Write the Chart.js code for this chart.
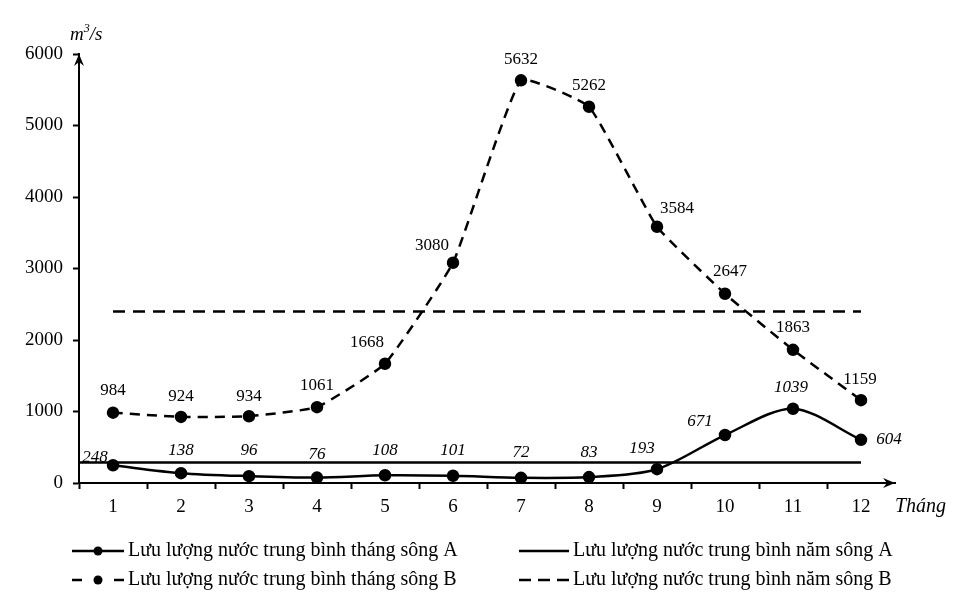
<!DOCTYPE html>
<html>
<head>
<meta charset="utf-8">
<title>Lưu lượng nước sông A và sông B</title>
<script src="https://cdn.jsdelivr.net/npm/chart.js@4"></script>
<style>
  html, body { margin: 0; padding: 0; background: #fff; }
  #wrap { width: 955px; height: 608px; }
</style>
</head>
<body>
<div id="wrap"><canvas id="flowChart" width="955" height="608"></canvas></div>
<script>
// data
const months = [1, 2, 3, 4, 5, 6, 7, 8, 9, 10, 11, 12];
const riverA = [248, 138, 96, 76, 108, 101, 72, 83, 193, 671, 1039, 604];
const riverB = [984, 924, 934, 1061, 1668, 3080, 5632, 5262, 3584, 2647, 1863, 1159];
const meanA = 286;
const meanB = 2400;
const yTicks = [0, 1000, 2000, 3000, 4000, 5000, 6000];

const legendLabels = [
  "Lưu lượng nước trung bình tháng sông A",
  "Lưu lượng nước trung bình năm sông A",
  "Lưu lượng nước trung bình tháng sông B",
  "Lưu lượng nước trung bình năm sông B"
];

const FONT = "'Liberation Serif', 'Times New Roman', serif";

// where each value label sits relative to its point (px)
const shiftA = [[-18, -8], [0, -23], [0, -26], [0, -23], [0, -25], [0, -25],
  [0, -25], [0, -25], [-15, -21], [-25, -13], [-2, -21], [28, 0]];
const shiftB = [[0, -22], [0, -20], [0, -20], [0, -22], [-18, -21], [-21, -17],
  [0, -21], [0, -21], [20, -18], [5, -22], [0, -22], [-1, -21]];

const pts = (arr) => arr.map((v, i) => ({ x: months[i], y: v }));

const valueLabels = {
  id: "valueLabels",
  afterDatasetsDraw(chart) {
    const { ctx } = chart;
    const conf = [
      { ds: 0, shift: shiftA, italic: true, vals: riverA },
      { ds: 2, shift: shiftB, italic: false, vals: riverB }
    ];
    ctx.save();
    ctx.fillStyle = "#000";
    ctx.textAlign = "center";
    ctx.textBaseline = "middle";
    conf.forEach((c) => {
      ctx.font = (c.italic ? "italic " : "") + "17px " + FONT;
      chart.getDatasetMeta(c.ds).data.forEach((p, i) => {
        ctx.fillText(String(c.vals[i]), p.x + c.shift[i][0], p.y + c.shift[i][1]);
      });
    });
    ctx.restore();
  }
};

const axisExtras = {
  id: "axisExtras",
  afterDraw(chart) {
    const { ctx, chartArea: a } = chart;
    ctx.save();
    ctx.fillStyle = "#000";
    // arrow heads
    ctx.beginPath();
    ctx.moveTo(a.left, a.top);
    ctx.lineTo(a.left - 5, a.top + 12);
    ctx.lineTo(a.left, a.top + 8);
    ctx.lineTo(a.left + 5, a.top + 12);
    ctx.closePath();
    ctx.fill();
    ctx.beginPath();
    ctx.moveTo(a.right, a.bottom);
    ctx.lineTo(a.right - 12, a.bottom - 5);
    ctx.lineTo(a.right - 8, a.bottom);
    ctx.lineTo(a.right - 12, a.bottom + 5);
    ctx.closePath();
    ctx.fill();

    // unit and axis name
    ctx.textBaseline = "middle";
    ctx.textAlign = "left";
    ctx.font = "italic 19px " + FONT;
    ctx.fillText("m", 70, 35);
    const mw = ctx.measureText("m").width;
    ctx.font = "italic 12px " + FONT;
    ctx.fillText("3", 70 + mw, 29);
    const tw = ctx.measureText("3").width;
    ctx.font = "italic 19px " + FONT;
    ctx.fillText("/s", 70 + mw + tw, 35);
    ctx.font = "italic 20px " + FONT;
    ctx.fillText("Tháng", a.right, 507);

    // legend
    const rows = [551, 580];
    const cols = [[72, 124], [519, 569]];
    ctx.lineWidth = 2.5;
    ctx.strokeStyle = "#000";
    ctx.font = "20px " + FONT;
    legendLabels.forEach((txt, k) => {
      const [x0, x1] = cols[k % 2];
      const y = rows[Math.floor(k / 2)];
      ctx.beginPath();
      if (k === 2) {
        ctx.moveTo(x0, y); ctx.lineTo(x0 + 10, y);
        ctx.moveTo(x1 - 10, y); ctx.lineTo(x1, y);
      } else if (k === 3) {
        ctx.setLineDash([12, 7]);
        ctx.moveTo(x0, y); ctx.lineTo(x1, y);
      } else {
        ctx.moveTo(x0, y); ctx.lineTo(x1, y);
      }
      ctx.stroke();
      ctx.setLineDash([]);
      if (k % 2 === 0) {
        ctx.beginPath();
        ctx.arc((x0 + x1) / 2, y, 4.5, 0, Math.PI * 2);
        ctx.fill();
      }
      ctx.fillText(txt, x1 + 4, y);
    });
    ctx.restore();
  }
};

new Chart(document.getElementById("flowChart"), {
  type: "line",
  data: {
    datasets: [
      {
        label: legendLabels[0],
        data: pts(riverA),
        borderColor: "#000",
        backgroundColor: "#000",
        borderWidth: 2.5,
        pointRadius: 5,
        pointHoverRadius: 5,
        tension: 0.3,
        clip: false
      },
      {
        label: legendLabels[1],
        data: [{ x: 0.5, y: meanA }, { x: 12, y: meanA }],
        borderColor: "#000",
        borderWidth: 2.5,
        pointRadius: 0
      },
      {
        label: legendLabels[2],
        data: pts(riverB),
        borderColor: "#000",
        backgroundColor: "#000",
        borderWidth: 2.5,
        borderDash: [10, 7],
        pointRadius: 5,
        pointHoverRadius: 5,
        tension: 0.12,
        clip: false
      },
      {
        label: legendLabels[3],
        data: [{ x: 1, y: meanB }, { x: 12, y: meanB }],
        borderColor: "#000",
        borderWidth: 2.5,
        borderDash: [12, 8],
        pointRadius: 0
      }
    ]
  },
  options: {
    responsive: false,
    animation: false,
    layout: { padding: { top: 54, right: 60, left: 0, bottom: 0 } },
    plugins: {
      legend: { display: false },
      tooltip: { enabled: false }
    },
    scales: {
      x: {
        type: "linear",
        min: 0.5,
        max: 12.5,
        afterFit: (scale) => { scale.height = 125; },
        afterBuildTicks: (scale) => {
          const t = [];
          for (let v = 0.5; v <= 12.5; v += 0.5) t.push({ value: v });
          scale.ticks = t;
        },
        grid: {
          drawOnChartArea: false,
          drawTicks: true,
          tickLength: 6,
          tickWidth: 2,
          tickColor: (c) => (c.tick && c.tick.value % 1 !== 0 && c.tick.value < 12.5 ? "#000" : "rgba(0,0,0,0)")
        },
        border: { color: "#000", width: 2 },
        ticks: {
          autoSkip: false,
          maxRotation: 0,
          padding: 7,
          color: "#000",
          font: { family: FONT, size: 19 },
          callback: (v) => (v % 1 === 0 ? String(v) : "")
        }
      },
      y: {
        min: 0,
        max: 6000,
        afterFit: (scale) => { scale.width = 79; },
        afterBuildTicks: (scale) => {
          scale.ticks = yTicks.map((v) => ({ value: v }));
        },
        grid: {
          drawOnChartArea: false,
          drawTicks: true,
          tickLength: 6,
          tickWidth: 2,
          tickColor: "#000"
        },
        border: { color: "#000", width: 2 },
        ticks: {
          padding: 10,
          color: "#000",
          font: { family: FONT, size: 19 },
          callback: (v) => String(v)
        }
      }
    }
  },
  plugins: [valueLabels, axisExtras]
});
</script>
</body>
</html>
